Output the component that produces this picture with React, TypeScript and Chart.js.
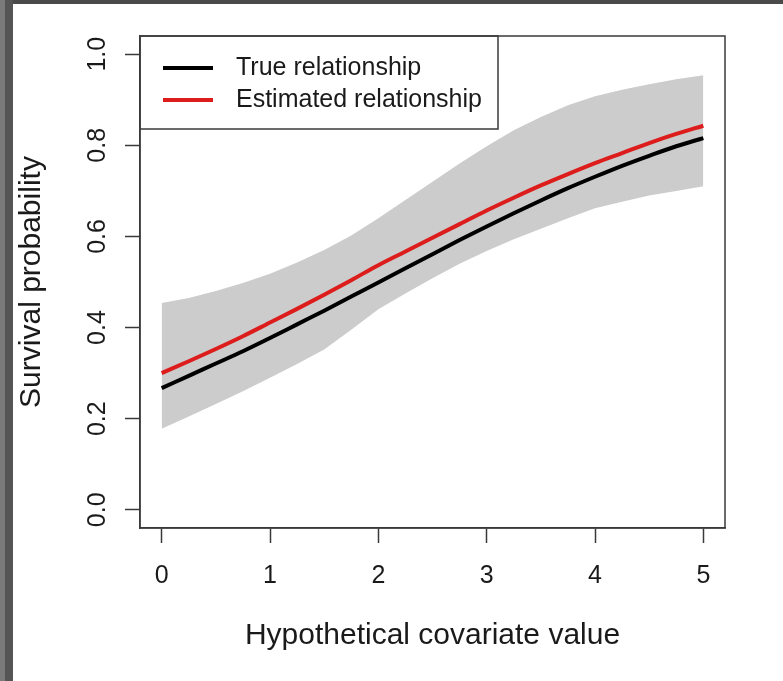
import { useEffect, useRef } from "react";
import { Chart, registerables } from "chart.js";

Chart.register(...registerables);

// ---- data ----
const xValues = [0, 0.25, 0.5, 0.75, 1, 1.25, 1.5, 1.75, 2, 2.25, 2.5, 2.75, 3, 3.25, 3.5, 3.75, 4, 4.25, 4.5, 4.75, 5];
const trueValues = [0.267, 0.294, 0.321, 0.348, 0.377, 0.407, 0.437, 0.468, 0.499, 0.53, 0.561, 0.592, 0.622, 0.651, 0.679, 0.706, 0.731, 0.755, 0.777, 0.798, 0.816];
const estimatedValues = [0.3, 0.326, 0.353, 0.381, 0.411, 0.441, 0.472, 0.504, 0.537, 0.567, 0.597, 0.627, 0.657, 0.685, 0.712, 0.737, 0.761, 0.783, 0.805, 0.825, 0.843];
const upperValues = [0.454, 0.465, 0.48, 0.498, 0.518, 0.543, 0.57, 0.602, 0.64, 0.68, 0.72, 0.76, 0.798, 0.833, 0.862, 0.888, 0.908, 0.922, 0.934, 0.945, 0.954];
const lowerValues = [0.178, 0.205, 0.232, 0.26, 0.29, 0.32, 0.352, 0.395, 0.44, 0.475, 0.508, 0.54, 0.568, 0.594, 0.617, 0.64, 0.662, 0.676, 0.69, 0.7, 0.71];
const xTicks = [0, 1, 2, 3, 4, 5];
const yTicks = [0, 0.2, 0.4, 0.6, 0.8, 1.0];
const legendLabels = ["True relationship", "Estimated relationship"];
const xTitle = "Hypothetical covariate value";
const yTitle = "Survival probability";

const FONT = "'Liberation Sans', Arial, sans-serif";
const AXIS_COLOR = "#3a3a3a";
const TEXT_COLOR = "#1a1a1a";
const TRUE_COLOR = "#000000";
const EST_COLOR = "#dd1c1c";
const BAND_COLOR = "#cccccc";

const pts = (ys: number[]) => xValues.map((x, i) => ({ x, y: ys[i] }));

const backgroundPlugin = {
  id: "bgFrame",
  beforeDraw(chart: any) {
    const { ctx, width, height } = chart;
    ctx.save();
    ctx.fillStyle = "#ffffff";
    ctx.fillRect(0, 0, width, height);
    ctx.fillStyle = "#4a4a4a";
    ctx.fillRect(0, 0, width, 4);
    ctx.fillStyle = "#7a7a7a";
    ctx.fillRect(0, 0, 5, height);
    ctx.fillStyle = "#555555";
    ctx.fillRect(5, 0, 8, height);
    ctx.restore();
  },
};

const boxLegendPlugin = {
  id: "boxLegend",
  afterDraw(chart: any) {
    const { ctx, chartArea } = chart;
    const { left, top, right, bottom } = chartArea;
    ctx.save();
    // legend
    const lw = 358;
    const lh = 93;
    ctx.fillStyle = "#ffffff";
    ctx.fillRect(left, top, lw, lh);
    ctx.strokeStyle = AXIS_COLOR;
    ctx.lineWidth = 1.5;
    ctx.strokeRect(left, top, lw, lh);
    const colors = [TRUE_COLOR, EST_COLOR];
    legendLabels.forEach((label, i) => {
      const y = top + 32 + i * 32;
      ctx.strokeStyle = colors[i];
      ctx.lineWidth = 4;
      ctx.beginPath();
      ctx.moveTo(left + 23, y);
      ctx.lineTo(left + 73, y);
      ctx.stroke();
      ctx.fillStyle = TEXT_COLOR;
      ctx.font = `25px ${FONT}`;
      ctx.textBaseline = "middle";
      ctx.textAlign = "left";
      ctx.fillText(label, left + 96, y);
    });
    // plot frame
    ctx.strokeStyle = AXIS_COLOR;
    ctx.lineWidth = 1.5;
    ctx.strokeRect(left, top, right - left, bottom - top);
    ctx.restore();
  },
};

export default function App() {
  const ref = useRef<HTMLCanvasElement | null>(null);

  useEffect(() => {
    document.body.style.margin = "0";
    const canvas = ref.current;
    if (!canvas) return;
    Chart.defaults.font.family = FONT;
    const chart = new Chart(canvas, {
      type: "line",
      data: {
        datasets: [
          {
            label: "lower",
            data: pts(lowerValues),
            borderWidth: 0,
            pointRadius: 0,
            backgroundColor: BAND_COLOR,
            borderColor: BAND_COLOR,
            fill: false,
          },
          {
            label: "upper",
            data: pts(upperValues),
            borderWidth: 0,
            pointRadius: 0,
            backgroundColor: BAND_COLOR,
            borderColor: BAND_COLOR,
            fill: "-1",
          },
          {
            label: legendLabels[1],
            data: pts(estimatedValues),
            borderColor: EST_COLOR,
            borderWidth: 4,
            pointRadius: 0,
            fill: false,
            cubicInterpolationMode: "monotone",
          },
          {
            label: legendLabels[0],
            data: pts(trueValues),
            borderColor: TRUE_COLOR,
            borderWidth: 4,
            pointRadius: 0,
            fill: false,
            cubicInterpolationMode: "monotone",
          },
        ],
      },
      options: {
        responsive: false,
        animation: false,
        events: [],
        layout: { padding: { left: 0, top: 36, right: 58, bottom: 0 } },
        plugins: {
          legend: { display: false },
          tooltip: { enabled: false },
          title: { display: false },
          filler: { drawTime: "beforeDatasetsDraw" },
        },
        scales: {
          x: {
            type: "linear",
            min: -0.2,
            max: 5.2,
            afterBuildTicks: (s: any) => {
              s.ticks = xTicks.map((v) => ({ value: v }));
            },
            afterFit: (s: any) => {
              s.height = 153;
            },
            ticks: {
              font: { size: 25 },
              color: TEXT_COLOR,
              padding: 18,
              callback: (v: any) => String(v),
            },
            grid: {
              display: true,
              drawOnChartArea: false,
              drawTicks: true,
              tickLength: 15,
              tickColor: AXIS_COLOR,
              tickWidth: 1.5,
            },
            border: { display: true, color: AXIS_COLOR, width: 1.5 },
            title: {
              display: true,
              text: xTitle,
              font: { size: 30 },
              color: TEXT_COLOR,
              padding: { top: 0, bottom: 27 },
            },
          },
          y: {
            type: "linear",
            min: -0.04,
            max: 1.04,
            afterBuildTicks: (s: any) => {
              s.ticks = yTicks.map((v) => ({ value: v }));
            },
            afterFit: (s: any) => {
              s.width = 140;
            },
            ticks: {
              font: { size: 25 },
              color: TEXT_COLOR,
              padding: 10,
              minRotation: 90,
              maxRotation: 90,
              crossAlign: "center",
              callback: (v: any) => Number(v).toFixed(1),
            },
            grid: {
              display: true,
              drawOnChartArea: false,
              drawTicks: true,
              tickLength: 15,
              tickColor: AXIS_COLOR,
              tickWidth: 1.5,
            },
            border: { display: true, color: AXIS_COLOR, width: 1.5 },
            title: {
              display: true,
              text: yTitle,
              font: { size: 30 },
              color: TEXT_COLOR,
              padding: { top: 14, bottom: 0 },
            },
          },
        },
      },
      plugins: [backgroundPlugin, boxLegendPlugin],
    } as any);
    return () => chart.destroy();
  }, []);

  return (
    <div style={{ width: 783, height: 681 }}>
      <canvas ref={ref} width={783} height={681} style={{ display: "block" }} />
    </div>
  );
}
